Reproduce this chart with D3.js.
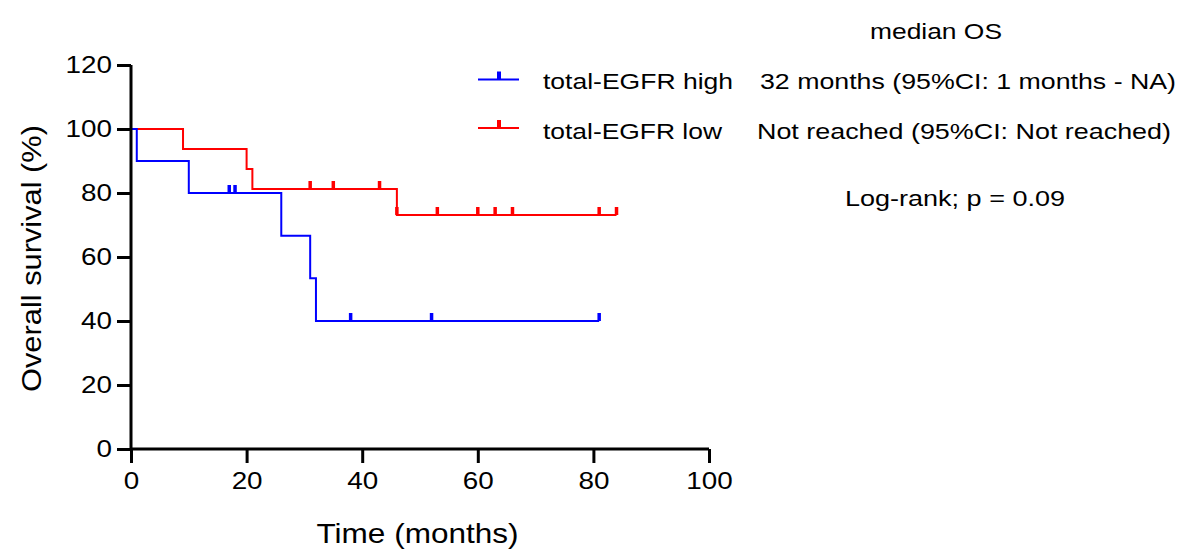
<!DOCTYPE html>
<html><head><meta charset="utf-8">
<script src="https://cdn.jsdelivr.net/npm/d3@7"></script>
<style>body{margin:0;background:#fff}text{font-family:"Liberation Sans",Arial,sans-serif;fill:#000}</style>
</head><body><svg id="c" width="1187" height="554"></svg>
<script>
// Kaplan-Meier step data (time in months, survival %)
const highTimes = [0, 1, 10, 26, 31, 32, 81];
const highSurv  = [100, 90, 80, 66.67, 53.33, 40, 40];
const highCensor = [17, 18, 38, 52, 81];
const lowTimes = [0, 9, 20, 21, 46, 84];
const lowSurv  = [100, 93.75, 87.5, 81.25, 73.13, 73.13];
const lowCensor = [31, 35, 43, 46, 53, 60, 63, 66, 81, 84];
const xTicks = [0, 20, 40, 60, 80, 100];
const yTicks = [0, 20, 40, 60, 80, 100, 120];
const groups = ["total-EGFR high", "total-EGFR low"];
const medianText = ["32 months (95%CI: 1 months - NA)", "Not reached (95%CI: Not reached)"];
const colors = ["#0000ff", "#ff0000"];

const svg = d3.select("#c");
const x = d3.scaleLinear().domain([0, 100]).range([131, 709]);
const y = d3.scaleLinear().domain([0, 120]).range([449, 65]);

function survAt(times, surv, t) {
  let s = surv[0];
  for (let i = 0; i < times.length; i++) if (times[i] <= t) s = surv[i];
  return s;
}
function stretch(sel, k) {
  sel.each(function () {
    const w = this.getComputedTextLength();
    d3.select(this).attr("textLength", w * k).attr("lengthAdjust", "spacingAndGlyphs");
  });
}

const series = [
  {times: highTimes, surv: highSurv, cens: highCensor, color: colors[0]},
  {times: lowTimes, surv: lowSurv, cens: lowCensor, color: colors[1]}
];
const line = d3.line().x(d => x(d[0])).y(d => y(d[1])).curve(d3.curveStepAfter);

series.slice().reverse().forEach(s => {
  const pts = s.times.map((t, i) => [t, s.surv[i]]);
  svg.append("path").attr("d", line(pts)).attr("fill", "none")
    .attr("stroke", s.color).attr("stroke-width", 2);
  svg.selectAll(null).data(s.cens).enter().append("line")
    .attr("x1", d => x(d)).attr("x2", d => x(d))
    .attr("y1", d => y(survAt(s.times, s.surv, d)))
    .attr("y2", d => y(survAt(s.times, s.surv, d)) - 8)
    .attr("stroke", s.color).attr("stroke-width", 3.5);
});

// axes
const xAxis = svg.append("g").attr("transform", "translate(0,449)")
  .call(d3.axisBottom(x).tickValues(xTicks).tickSize(14).tickPadding(10));
const yAxis = svg.append("g").attr("transform", "translate(131,0)")
  .call(d3.axisLeft(y).tickValues(yTicks).tickSize(14).tickPadding(5));
[xAxis, yAxis].forEach(a => {
  a.attr("font-size", null).attr("font-family", null);
  a.select(".domain").attr("stroke", "#000").attr("stroke-width", 3);
  a.selectAll(".tick line").attr("stroke", "#000").attr("stroke-width", 3);
  a.selectAll(".tick text").attr("fill", "#000").style("font-size", "23px");
  stretch(a.selectAll(".tick text"), 1.21);
});
xAxis.select(".domain").attr("d", "M131,0H709");
yAxis.select(".domain").attr("d", "M0,65V449");

svg.append("text").attr("x", 417.5).attr("y", 543).attr("text-anchor", "middle")
  .style("font-size", "28px").attr("textLength", 202).attr("lengthAdjust", "spacingAndGlyphs")
  .text("Time (months)");
svg.append("text").attr("transform", "translate(41,258.5) rotate(-90)")
  .attr("text-anchor", "middle").style("font-size", "28px")
  .attr("textLength", 267).attr("lengthAdjust", "spacingAndGlyphs")
  .text("Overall survival (%)");

// legend
svg.append("text").attr("x", 936).attr("y", 39).attr("text-anchor", "middle")
  .style("font-size", "22px").attr("textLength", 132).attr("lengthAdjust", "spacingAndGlyphs")
  .text("median OS");
const rowY = [79.5, 128];
const baseY = [89, 139];
const labelW = [190, 179];
const medW = [416, 414];
const medX = [760, 757];
groups.forEach((g, i) => {
  const yy = rowY[i];
  svg.append("line").attr("x1", 478).attr("x2", 519).attr("y1", yy).attr("y2", yy)
    .attr("stroke", colors[i]).attr("stroke-width", 2);
  svg.append("line").attr("x1", 499).attr("x2", 499).attr("y1", yy).attr("y2", yy - 8)
    .attr("stroke", colors[i]).attr("stroke-width", 4);
  svg.append("text").attr("x", 543).attr("y", baseY[i]).style("font-size", "22px")
    .attr("textLength", labelW[i]).attr("lengthAdjust", "spacingAndGlyphs").text(g);
  svg.append("text").attr("x", medX[i]).attr("y", baseY[i])
    .style("font-size", "22px").attr("textLength", medW[i]).attr("lengthAdjust", "spacingAndGlyphs")
    .text(medianText[i]);
});
svg.append("text").attr("x", 955).attr("y", 206).attr("text-anchor", "middle")
  .style("font-size", "22px").attr("textLength", 220).attr("lengthAdjust", "spacingAndGlyphs")
  .text("Log-rank; p = 0.09");
</script></body></html>
